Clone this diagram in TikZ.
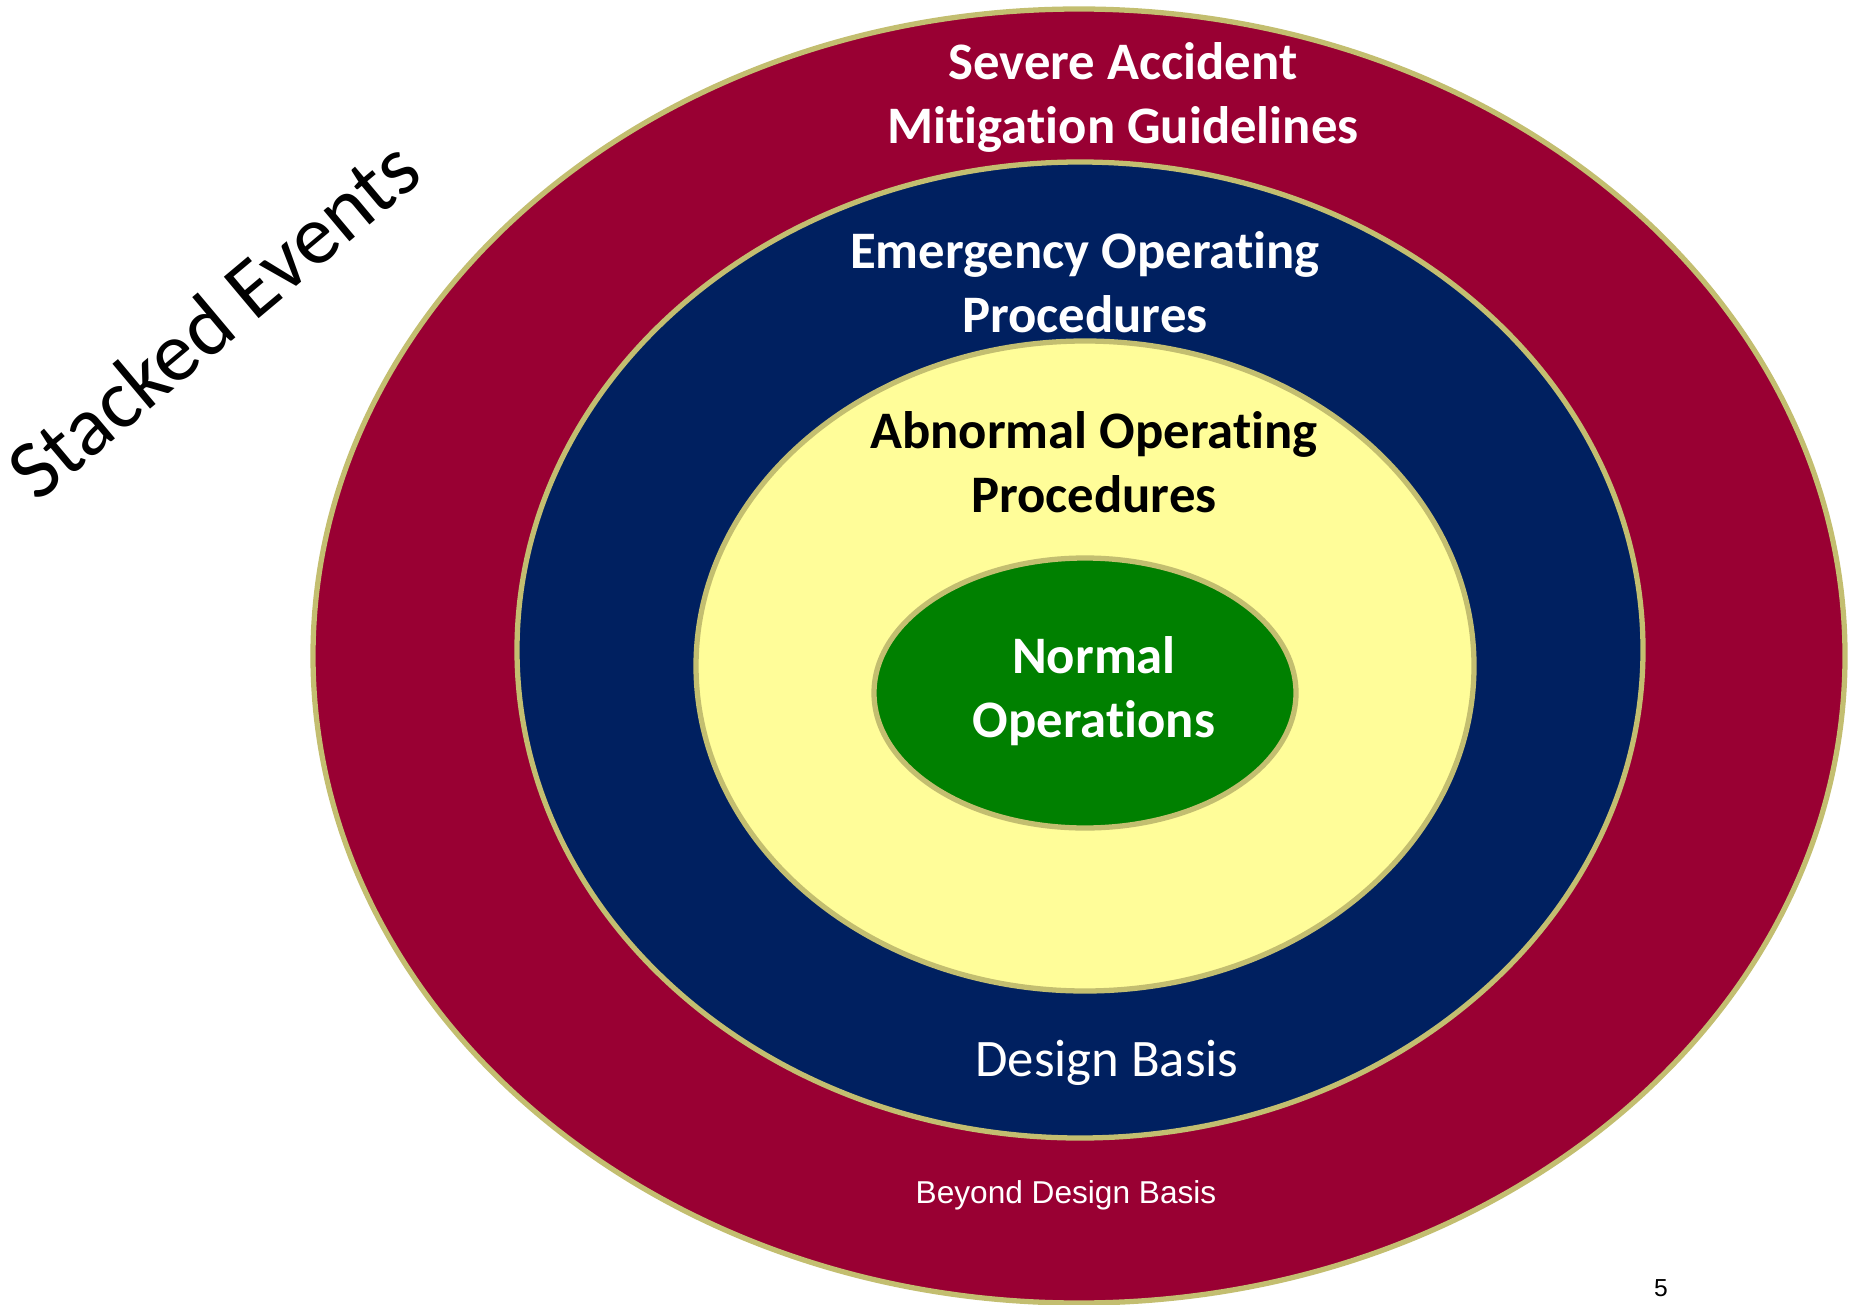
\documentclass[tikz,border=0pt]{standalone}
\usepackage{fontspec}
\setmainfont{Carlito}[Ligatures=NoCommon]
\newfontfamily\arialfont{Liberation Sans}
\usetikzlibrary{shapes.geometric, positioning}
\definecolor{sammred}{RGB}{153, 0, 51}
\definecolor{eopblue}{RGB}{0, 32, 96}
\definecolor{aopyellow}{RGB}{255, 253, 153}
\definecolor{normgreen}{RGB}{0, 128, 0}
\definecolor{rimtan}{RGB}{195, 190, 112}

\begin{document}
\begin{tikzpicture}[
    ring/.style={ellipse, draw=rimtan, line width=1.5pt, inner sep=0pt},
    tier/.style={align=center, font=\fontsize{15}{18.2}\selectfont\bfseries, text=white},
    band/.style={align=center, font=\fontsize{15}{18}\selectfont, text=white}
]
    \useasboundingbox (0,0) rectangle (18.54,13.04);

    % nested rings, outermost first
    \node (sam) [ring, fill=sammred, minimum width=15.32cm, minimum height=12.94cm] at (10.79,6.48) {};
    \node (eop) [ring, fill=eopblue, minimum width=11.26cm, minimum height=9.76cm] at (10.80,6.54) {};
    \node (aop) [ring, fill=aopyellow, minimum width=7.78cm, minimum height=6.50cm] at (10.85,6.38) {};
    \node (nop) [ring, fill=normgreen, minimum width=4.22cm, minimum height=2.70cm] at (10.85,6.11) {};

    % ring titles
    \node (samtxt) [tier] at (11.23,12.07) {Severe Accident\\Mitigation Guidelines};
    \node (eoptxt) [tier] at (10.85,10.22) {Emergency Operating\\Procedures};
    \node (aoptxt) [tier, text=black] at (10.94,8.42) {Abnormal Operating\\Procedures};
    \node (noptxt) [tier] at (10.94,6.13) {Normal\\Operations};

    \node (db) [band] at (11.07,2.41) {Design Basis};
    \node (bdb) [font=\arialfont\fontsize{9}{11}\selectfont, text=white] at (10.66,1.09) {Beyond Design Basis};

    \node (stack) [font=\fontsize{24}{28}\selectfont, rotate=40] at (2.13,9.85) {Stacked Events};
    \node (page) [font=\arialfont\fontsize{7}{8}\selectfont] at (16.61,0.16) {5};
\end{tikzpicture}
\end{document}
